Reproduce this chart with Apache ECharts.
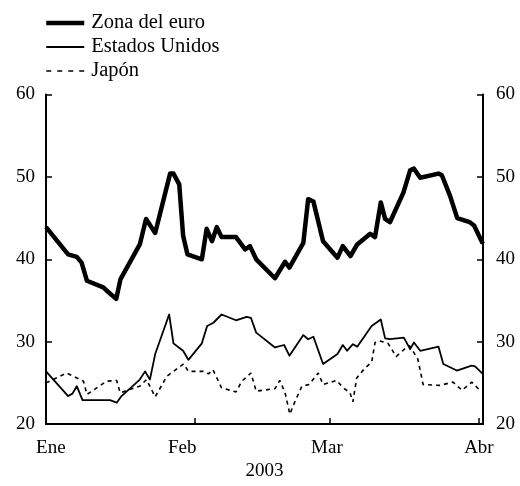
<!DOCTYPE html>
<html lang="es">
<head>
<meta charset="UTF-8">
<title>Zona del euro, Estados Unidos, Japón</title>
<script src="https://cdn.jsdelivr.net/npm/echarts@6/dist/echarts.min.js"></script>
<style>
  html, body { margin: 0; padding: 0; background: #fff; }
  #chart { width: 520px; height: 486px; }
</style>
</head>
<body>
<div id="chart"></div>
<script>
// dias desde el 1 de enero de 2003, valor
const euro = [
  [0, 43.9], [4.6, 40.6], [6.4, 40.3], [7.4, 39.6], [8.5, 37.4], [11.9, 36.6],
  [13, 36.0], [14.6, 35.2], [15.5, 37.6], [19.5, 41.8], [20.8, 44.9], [22.7, 43.2],
  [25.8, 50.4], [26.5, 50.4], [27.7, 49.1], [28.5, 42.9], [29.4, 40.6], [32.4, 40.0],
  [33.4, 43.7], [34.5, 42.2], [35.5, 43.9], [36.5, 42.7], [39.5, 42.7], [41.4, 41.2],
  [42.4, 41.6], [43.7, 40.0], [47.6, 37.7], [49.7, 39.7], [50.6, 39.0], [53.5, 42.0],
  [54.5, 47.3], [55.6, 47.0], [57.6, 42.2], [60.6, 40.2], [61.7, 41.6], [63.3, 40.4],
  [64.7, 41.8], [67.4, 43.1], [68.4, 42.7], [69.6, 46.9], [70.5, 44.9], [71.5, 44.5],
  [74.3, 48.1], [75.7, 50.8], [76.5, 51.0], [77.8, 49.9], [81.6, 50.4], [82.3, 50.2],
  [84, 47.7], [85.5, 45.0], [88.1, 44.5], [89, 44.1], [90.8, 41.9]
];
const eeuu = [
  [0, 26.4], [4.6, 23.4], [5.5, 23.7], [6.4, 24.6], [7.6, 22.9], [13.3, 22.9],
  [14.7, 22.6], [15.7, 23.4], [19.5, 25.4], [20.6, 26.4], [21.6, 25.4], [22.7, 28.5],
  [25.6, 33.3], [26.5, 29.8], [28.5, 28.9], [29.6, 27.8], [32.4, 29.8], [33.5, 31.9],
  [34.8, 32.3], [36.5, 33.3], [39.5, 32.6], [41.7, 33.0], [42.6, 32.9], [43.7, 31.1],
  [47.6, 29.3], [49.5, 29.6], [50.6, 28.3], [53.5, 30.8], [54.5, 30.3], [55.6, 30.6],
  [57.6, 27.3], [60.6, 28.5], [61.7, 29.6], [62.6, 28.9], [63.8, 29.7], [64.7, 29.4],
  [67.7, 31.9], [69.6, 32.7], [70.5, 30.4], [71.5, 30.3], [74.4, 30.5], [75.7, 29.1],
  [76.5, 29.9], [77.8, 28.9], [81.6, 29.4], [82.6, 27.3], [85.4, 26.5], [88.5, 27.1],
  [89.2, 27.0], [90.8, 26.1]
];
const japon = [
  [0, 25.0], [4.3, 26.2], [7.8, 25.2], [8.5, 23.6], [12.6, 25.2], [14.7, 25.3],
  [15.4, 23.8], [19.5, 24.6], [20.9, 25.4], [22.7, 23.3], [25.1, 25.8], [28.6, 27.3],
  [29.6, 26.4], [32.7, 26.4], [33.8, 26.1], [34.7, 26.6], [36.5, 24.4], [39.5, 23.9],
  [40.7, 25.2], [42.6, 26.2], [43.7, 24.0], [47.6, 24.3], [48.6, 25.3], [49.7, 23.8],
  [50.7, 21.2], [51.8, 22.8], [53.2, 24.6], [54.7, 24.8], [56.6, 26.2], [57.6, 24.8],
  [60.4, 25.3], [61.8, 24.4], [63.2, 23.8], [63.8, 22.7], [64.6, 25.6], [66.3, 26.8],
  [67.7, 27.5], [68.4, 29.9], [69.3, 30.1], [71.1, 29.8], [72.8, 28.2], [74.9, 29.3],
  [75.6, 29.5], [77.3, 27.9], [78.4, 24.8], [81.9, 24.7], [84.6, 25.1], [86.5, 24.1],
  [88.5, 25.1], [90.2, 24.1]
];
const seriesNames = ['Zona del euro', 'Estados Unidos', 'Japón'];
const lineWidths = [4.5, 1.8, 1.6];
const legendDash = ['solid', 'solid', [5, 6]];
const monthNames = ['Ene', 'Feb', 'Mar', 'Abr'];
const monthTicks = [0, 31, 59, 90];
const monthLabelPos = [1, 28.3, 58.4, 90];
const yTicks = [20, 30, 40, 50, 60];

const FONT = 'Liberation Serif, Times New Roman, serif';
const axisStyle = { color: '#000', width: 2 };

const yAxisBase = {
  type: 'value',
  min: 20,
  max: 60,
  interval: 10,
  splitLine: { show: false },
  axisLine: { show: true, lineStyle: axisStyle },
  axisTick: { show: true, inside: true, length: 6, lineStyle: { color: '#000', width: 1.5 } },
  axisLabel: { color: '#000', fontFamily: FONT, fontSize: 19, formatter: v => yTicks.includes(v) ? String(v) : '' }
};

const chart = echarts.init(document.getElementById('chart'), null, { renderer: 'canvas' });
chart.setOption({
  animation: false,
  backgroundColor: '#fff',
  textStyle: { fontFamily: FONT },
  legend: {
    orient: 'vertical',
    left: 39,
    top: 6,
    itemWidth: 38,
    itemHeight: 14,
    itemGap: 0,
    itemStyle: { color: 'rgba(0,0,0,0)', borderColor: 'rgba(0,0,0,0)', borderWidth: 0, opacity: 0 },
    textStyle: { color: '#000', fontFamily: FONT, fontSize: 20.5, lineHeight: 24, padding: [0, 0, 0, 2] },
    data: seriesNames.map((n, i) => ({ name: n, lineStyle: { width: lineWidths[i], type: legendDash[i] } }))
  },
  grid: { left: 46, right: 37, top: 94.5, bottom: 54 },
  xAxis: {
    type: 'value',
    min: 0,
    max: 90.85,
    name: '2003',
    nameLocation: 'middle',
    nameGap: 36,
    nameTextStyle: { color: '#000', fontFamily: FONT, fontSize: 19 },
    splitLine: { show: false },
    axisLine: { show: true, lineStyle: axisStyle },
    axisTick: { show: true, inside: true, length: 6, customValues: monthTicks, lineStyle: { color: '#000', width: 1.5 } },
    axisLabel: {
      color: '#000', fontFamily: FONT, fontSize: 19, margin: 14,
      customValues: monthLabelPos,
      formatter: v => {
        const i = monthLabelPos.findIndex(p => Math.abs(p - v) < 0.01);
        return i >= 0 ? monthNames[i] : '';
      }
    }
  },
  yAxis: [
    Object.assign({}, yAxisBase, { position: 'left', axisLabel: Object.assign({}, yAxisBase.axisLabel, { margin: 11 }) }),
    Object.assign({}, yAxisBase, { position: 'right', axisLabel: Object.assign({}, yAxisBase.axisLabel, { margin: 13 }) })
  ],
  series: [
    { name: seriesNames[0], type: 'line', data: euro, symbol: 'none', lineStyle: { color: '#000', width: lineWidths[0], join: 'round' } },
    { name: seriesNames[1], type: 'line', data: eeuu, symbol: 'none', lineStyle: { color: '#000', width: lineWidths[1], join: 'round' } },
    { name: seriesNames[2], type: 'line', data: japon, symbol: 'none', lineStyle: { color: '#000', width: lineWidths[2], type: [4, 4] } }
  ]
});
</script>
</body>
</html>
